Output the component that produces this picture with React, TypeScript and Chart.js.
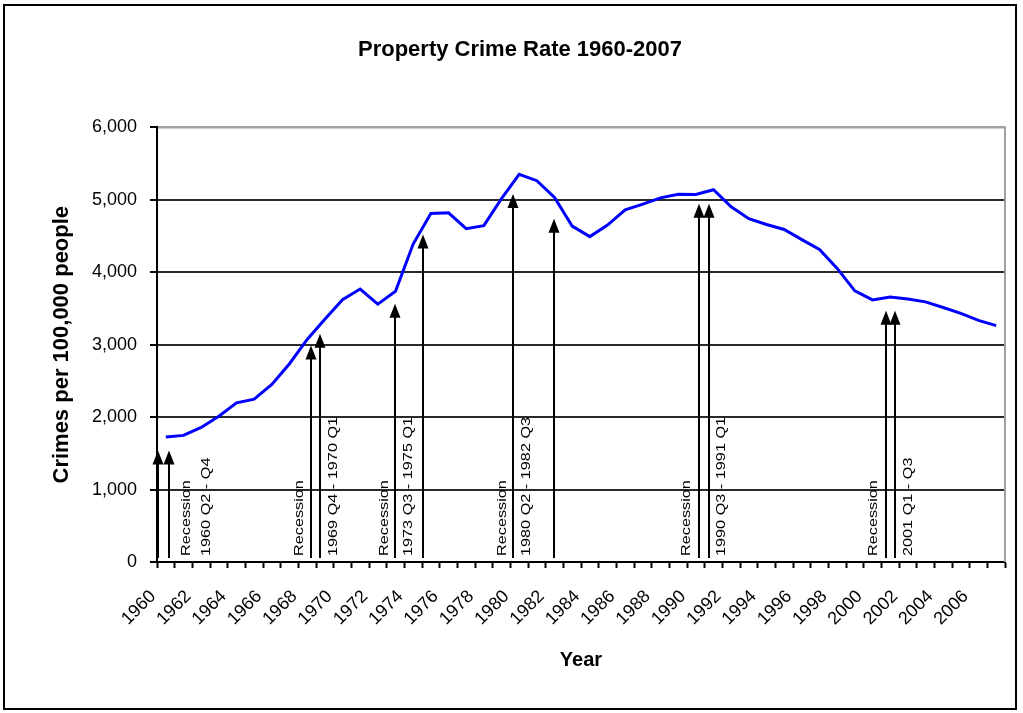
import React, { useEffect, useRef } from 'react';
import { Chart, registerables } from 'chart.js';

Chart.register(...registerables);

// ---- Data ----
const years = [
  1960, 1961, 1962, 1963, 1964, 1965, 1966, 1967, 1968, 1969,
  1970, 1971, 1972, 1973, 1974, 1975, 1976, 1977, 1978, 1979,
  1980, 1981, 1982, 1983, 1984, 1985, 1986, 1987, 1988, 1989,
  1990, 1991, 1992, 1993, 1994, 1995, 1996, 1997, 1998, 1999,
  2000, 2001, 2002, 2003, 2004, 2005, 2006, 2007,
];
const crimeRate = [
  1726, 1748, 1858, 2012, 2198, 2249, 2451, 2737, 3072, 3351,
  3621, 3769, 3560, 3737, 4389, 4811, 4820, 4602, 4643, 5017,
  5353, 5264, 5033, 4637, 4492, 4651, 4863, 4940, 5027, 5078,
  5073, 5140, 4904, 4740, 4660, 4591, 4451, 4316, 4053, 3744,
  3618, 3658, 3631, 3591, 3514, 3432, 3335, 3264,
];
const yTickValues = [0, 1000, 2000, 3000, 4000, 5000, 6000];
const xLabelYears = [
  1960, 1962, 1964, 1966, 1968, 1970, 1972, 1974, 1976, 1978, 1980, 1982,
  1984, 1986, 1988, 1990, 1992, 1994, 1996, 1998, 2000, 2002, 2004, 2006,
];

// recession arrows (position on the year axis, arrow tip value)
const arrowYears = [
  1960.06, 1960.68, 1968.70, 1969.23, 1973.48, 1975.03,
  1980.16, 1982.48, 1990.67, 1991.24, 2001.25, 2001.77,
];
const arrowTips = [
  1540, 1540, 2990, 3150, 3565, 4520,
  5080, 4740, 4945, 4945, 3470, 3470,
];
// recession text labels
const recessionWordYears = [1961.66, 1968.04, 1972.89, 1979.56, 1989.98, 2000.54];
const recessionPeriodYears = [1962.80, 1969.97, 1974.21, 1980.92, 1991.96, 2002.53];
const recessionPeriods = [
  '1960 Q2 - Q4',
  '1969 Q4 - 1970 Q1',
  '1973 Q3 - 1975 Q1',
  '1980 Q2 - 1982 Q3',
  '1990 Q3 - 1991 Q1',
  '2001 Q1 - Q3',
];

const FONT = '"Liberation Sans", Arial, sans-serif';

const framePlugin = {
  id: 'frame',
  beforeDraw(chart: any) {
    const { ctx, width, height } = chart;
    ctx.save();
    ctx.fillStyle = '#ffffff';
    ctx.fillRect(0, 0, width, height);
    ctx.strokeStyle = '#000000';
    ctx.lineWidth = 2;
    ctx.strokeRect(4, 5, 1012, 704);
    ctx.restore();
  },
  beforeDatasetsDraw(chart: any) {
    const { ctx, chartArea } = chart;
    ctx.save();
    ctx.strokeStyle = '#a0a0a0';
    ctx.lineWidth = 2;
    ctx.beginPath();
    ctx.moveTo(chartArea.left + 1, chartArea.top);
    ctx.lineTo(chartArea.right, chartArea.top);
    ctx.lineTo(chartArea.right, chartArea.bottom);
    ctx.stroke();
    ctx.restore();
  },
};

const recessionPlugin = {
  id: 'recessions',
  afterDatasetsDraw(chart: any) {
    const { ctx, chartArea } = chart;
    const xs = chart.scales.x;
    const ys = chart.scales.y;
    ctx.save();
    ctx.strokeStyle = '#000000';
    ctx.fillStyle = '#000000';
    ctx.lineWidth = 2;
    const headH = 14;
    const headW = 11;
    arrowYears.forEach((yr, i) => {
      const px = Math.round(xs.getPixelForValue(yr));
      const tipY = ys.getPixelForValue(arrowTips[i]);
      ctx.beginPath();
      ctx.moveTo(px, chartArea.bottom - 4);
      ctx.lineTo(px, tipY + headH - 1);
      ctx.stroke();
      ctx.beginPath();
      ctx.moveTo(px, tipY);
      ctx.lineTo(px - headW / 2, tipY + headH);
      ctx.lineTo(px + headW / 2, tipY + headH);
      ctx.closePath();
      ctx.fill();
    });
    ctx.font = `13px ${FONT}`;
    ctx.textAlign = 'left';
    ctx.textBaseline = 'middle';
    const drawVertical = (text: string, yr: number) => {
      const px = xs.getPixelForValue(yr);
      ctx.save();
      ctx.translate(px, chartArea.bottom - 6);
      ctx.rotate(-Math.PI / 2);
      ctx.scale(1.25, 1);
      ctx.fillText(text, 0, 0);
      ctx.restore();
    };
    recessionWordYears.forEach((yr) => drawVertical('Recession', yr));
    recessionPeriodYears.forEach((yr, i) => drawVertical(recessionPeriods[i], yr));
    ctx.restore();
  },
};

export default function App() {
  const ref = useRef<HTMLCanvasElement | null>(null);

  useEffect(() => {
    if (!ref.current) return;
    const chart = new Chart(ref.current, {
      type: 'line',
      data: {
        datasets: [
          {
            label: 'Property Crime Rate',
            data: years.map((yr, i) => ({ x: yr + 0.5, y: crimeRate[i] })),
            borderColor: '#0000ff',
            backgroundColor: '#0000ff',
            borderWidth: 3,
            pointRadius: 0,
            tension: 0,
            fill: false,
          },
        ],
      },
      options: {
        responsive: false,
        animation: false,
        events: [],
        layout: { padding: { top: 0, left: 35, right: 18, bottom: 0 } },
        plugins: {
          legend: { display: false },
          tooltip: { enabled: false },
          title: {
            display: true,
            text: 'Property Crime Rate 1960-2007',
            color: '#000',
            font: { family: FONT, size: 22, weight: 'bold' },
            padding: { top: 37, bottom: 64 },
          },
        },
        scales: {
          x: {
            type: 'linear',
            min: 1960,
            max: 2008,
            afterFit: (s: any) => {
              s.height = 151;
              s.paddingLeft = 0;
              s.paddingRight = 0;
            },
            afterBuildTicks: (s: any) => {
              s.ticks = [];
              for (let v = 1960; v <= 2008; v++) s.ticks.push({ value: v });
            },
            ticks: {
              stepSize: 1,
              autoSkip: false,
              minRotation: 45,
              maxRotation: 45,
              padding: 18,
              labelOffset: -4,
              color: '#000',
              font: { family: FONT, size: 18 },
              callback: (v: any) => (xLabelYears.includes(Number(v)) ? String(v) : ''),
            },
            grid: {
              drawOnChartArea: false,
              drawTicks: true,
              tickLength: 6,
              tickColor: '#000',
              tickWidth: 2,
            },
            border: { color: '#000', width: 2 },
            title: {
              display: true,
              text: 'Year',
              color: '#000',
              font: { family: FONT, size: 20, weight: 'bold' },
              padding: { top: 0, bottom: 41 },
            },
          },
          y: {
            type: 'linear',
            min: 0,
            max: 6000,
            afterFit: (s: any) => {
              s.width = 122;
              s.paddingTop = 0;
              s.paddingBottom = 0;
            },
            afterBuildTicks: (s: any) => {
              s.ticks = yTickValues.map((v) => ({ value: v }));
            },
            ticks: {
              stepSize: 1000,
              padding: 13,
              color: '#000',
              font: { family: FONT, size: 18 },
              callback: (v: any) => Number(v).toLocaleString('en-US'),
            },
            grid: {
              color: (c: any) => (c.tick && c.tick.value === 6000 ? '#a0a0a0' : '#2a2a2a'),
              lineWidth: 2,
              drawTicks: true,
              tickLength: 7,
              tickColor: '#000',
              tickWidth: 2,
            },
            border: { color: '#000', width: 2 },
            title: {
              display: true,
              text: 'Crimes per 100,000 people',
              color: '#000',
              font: { family: FONT, size: 22, weight: 'bold' },
              padding: { top: 14, bottom: 0 },
            },
          },
        },
      },
      plugins: [framePlugin, recessionPlugin],
    });
    return () => chart.destroy();
  }, []);

  return (
    <div style={{ position: 'absolute', left: 0, top: 0, width: 1023, height: 713, background: '#fff' }}>
      <canvas ref={ref} width={1023} height={713} style={{ display: 'block' }} />
    </div>
  );
}
